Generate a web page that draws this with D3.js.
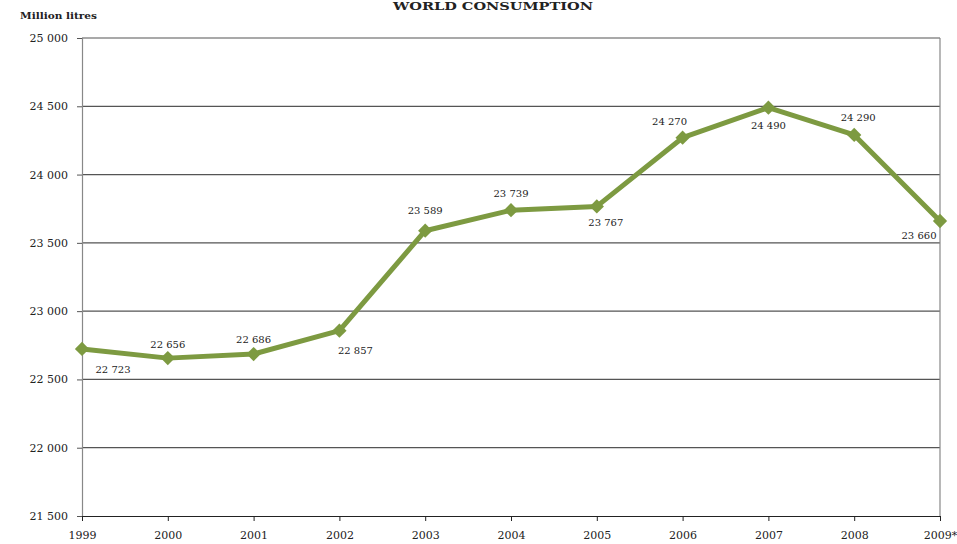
<!DOCTYPE html>
<meta charset="utf-8">
<html>
<head>
<style>
  body { margin: 0; background: #fff; }
  text { font-family: "DejaVu Serif", serif; fill: #222; }
</style>
<script src="https://d3js.org/d3.v7.min.js"></script>
</head>
<body>
<svg width="957" height="544"></svg>
<script>

var years = ["1999", "2000", "2001", "2002", "2003", "2004", "2005", "2006", "2007", "2008", "2009*"];
var consumption = [22723, 22656, 22686, 22857, 23589, 23739, 23767, 24270, 24490, 24290, 23660];
var yTicks = [21500, 22000, 22500, 23000, 23500, 24000, 24500, 25000];

// where each value label sits relative to its point (dx, dy in px)
var labelOffsets = [[31, 24], [0, -10], [0, -11], [16, 23], [0, -17], [0, -13], [9, 20], [-13, -13], [0, 21], [4, -14], [-21, 18]];

var svg = d3.select("svg"),
    margin = {top: 38, right: 17, bottom: 28, left: 82},
    width = +svg.attr("width"),
    height = +svg.attr("height");

var x = d3.scalePoint()
    .domain(years)
    .range([margin.left, width - margin.right]);

var y = d3.scaleLinear()
    .domain([21500, 25000])
    .range([height - margin.bottom, margin.top]);

var fmt = function(v) { return d3.format(",")(v).replace(",", " "); };

// horizontal grid lines
svg.append("g")
    .selectAll("line")
    .data(yTicks.slice(1))
    .enter().append("line")
    .attr("x1", margin.left)
    .attr("x2", width - margin.right)
    .attr("y1", function(d) { return y(d); })
    .attr("y2", function(d) { return y(d); })
    .attr("stroke", "#555")
    .attr("stroke-width", 1.2);

// right border
svg.append("line")
    .attr("x1", width - margin.right).attr("x2", width - margin.right)
    .attr("y1", margin.top).attr("y2", height - margin.bottom)
    .attr("stroke", "#888").attr("stroke-width", 1.2);

var yAxis = svg.append("g")
    .attr("transform", "translate(" + margin.left + ",0)")
    .call(d3.axisLeft(y).tickValues(yTicks).tickFormat(fmt).tickSize(5).tickPadding(9));
yAxis.select(".domain").attr("stroke", "#888").attr("stroke-width", 1.2);
yAxis.selectAll(".tick line").attr("stroke", "#555");
yAxis.selectAll("text").attr("font-size", 11).attr("fill", "#222").attr("font-family", "DejaVu Serif");

var xAxis = svg.append("g")
    .attr("transform", "translate(0," + (height - margin.bottom) + ")")
    .call(d3.axisBottom(x).tickSize(5).tickSizeOuter(0).tickPadding(10));
xAxis.select(".domain").attr("stroke", "#222").attr("stroke-width", 1.2);
xAxis.selectAll(".tick line").attr("stroke", "#222");
xAxis.selectAll("text").attr("font-size", 11).attr("fill", "#222").attr("font-family", "DejaVu Serif");

// line
var line = d3.line()
    .x(function(d, i) { return x(years[i]); })
    .y(function(d) { return y(d); });

svg.append("path")
    .datum(consumption)
    .attr("fill", "none")
    .attr("stroke", "#7d9a41")
    .attr("stroke-width", 5)
    .attr("stroke-linejoin", "round")
    .attr("d", line);

svg.append("g")
    .selectAll("path")
    .data(consumption)
    .enter().append("path")
    .attr("d", d3.symbol().type(d3.symbolDiamond2).size(130))
    .attr("transform", function(d, i) { return "translate(" + x(years[i]) + "," + y(d) + ")"; })
    .attr("fill", "#7d9a41");

// value labels
svg.append("g")
    .selectAll("text")
    .data(consumption)
    .enter().append("text")
    .attr("x", function(d, i) { return x(years[i]) + labelOffsets[i][0]; })
    .attr("y", function(d, i) { return y(d) + labelOffsets[i][1]; })
    .attr("text-anchor", "middle")
    .attr("font-size", 10)
    .text(fmt);

svg.append("text")
    .attr("x", 20)
    .attr("y", 19)
    .attr("font-size", 10)
    .attr("font-weight", "bold")
    .attr("textLength", 77)
    .attr("lengthAdjust", "spacingAndGlyphs")
    .text("Million litres");

svg.append("text")
    .attr("x", 493)
    .attr("y", 10)
    .attr("text-anchor", "middle")
    .attr("font-size", 11)
    .attr("font-weight", "bold")
    .attr("textLength", 200)
    .attr("lengthAdjust", "spacingAndGlyphs")
    .text("WORLD CONSUMPTION");

</script>
</body>
</html>
